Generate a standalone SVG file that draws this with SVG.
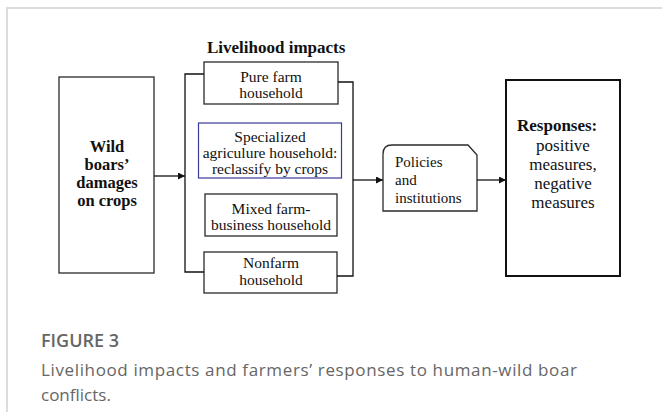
<svg xmlns="http://www.w3.org/2000/svg" width="662" height="412" viewBox="0 0 662 412">
<style>
.box{fill:#fff;stroke:#2a2a2a;stroke-width:1.3}
.blue{fill:#fff;stroke:#3a3a9a;stroke-width:1.2}
.resp{fill:#fff;stroke:#111;stroke-width:2}
.t{font-family:"Liberation Serif","Times New Roman",serif;fill:#111}
.c{text-anchor:middle}
.b{font-weight:bold}
.con{fill:none;stroke:#111;stroke-width:1.3}
.cap{font-family:"Open Sans","Noto Sans",sans-serif;fill:#666}
</style>
<defs>
<marker id="arr" viewBox="0 0 10 10" refX="10" refY="5" markerWidth="7" markerHeight="7" markerUnits="userSpaceOnUse" orient="auto">
<path d="M0,0 L10,5 L0,10 Z" fill="#111"/>
</marker>
</defs>
<rect width="662" height="412" fill="#fff"/>
<path d="M7,412 L7,8 L662,8" fill="none" stroke="#dcdcdc" stroke-width="2"/>

<text class="t b" x="207" y="53" font-size="17">Livelihood impacts</text>

<g id="wild">
<rect class="box" x="59" y="77" width="95" height="196"/>
<text class="t b c" font-size="16.5" x="107" y="152">Wild</text>
<text class="t b c" font-size="16.5" x="107" y="170">boars’</text>
<text class="t b c" font-size="16.5" x="107" y="188">damages</text>
<text class="t b c" font-size="16.5" x="107" y="206">on crops</text>
</g>

<g id="pure">
<rect class="box" x="204" y="62" width="134" height="42"/>
<text class="t c" font-size="15.5" x="271" y="82">Pure farm</text>
<text class="t c" font-size="15.5" x="271" y="98">household</text>
</g>

<g id="specialized">
<rect class="blue" x="198.5" y="123" width="143" height="55"/>
<text class="t c" font-size="15.5" x="270" y="142">Specialized</text>
<text class="t c" font-size="15.5" x="270" y="158">agriculure household:</text>
<text class="t c" font-size="15.5" x="270" y="174">reclassify by crops</text>
</g>

<g id="mixed">
<rect class="box" x="205" y="194" width="132" height="42"/>
<text class="t c" font-size="15.5" x="271" y="214">Mixed farm-</text>
<text class="t c" font-size="15.5" x="271" y="230">business household</text>
</g>

<g id="nonfarm">
<rect class="box" x="204" y="252" width="133" height="41"/>
<text class="t c" font-size="15.5" x="271" y="268">Nonfarm</text>
<text class="t c" font-size="15.5" x="271" y="285">household</text>
</g>

<g id="policies">
<path class="box" d="M383,211 L383,154 Q383,145 392,145 L468,145 L477,155 L477,211 Z"/>
<text class="t" font-size="15" x="395" y="167">Policies</text>
<text class="t" font-size="15" x="395" y="185">and</text>
<text class="t" font-size="15" x="395" y="203">institutions</text>
</g>

<g id="responses">
<rect class="resp" x="506" y="80" width="114" height="196"/>
<text class="t b" font-size="17" x="517" y="131">Responses:</text>
<text class="t c" font-size="17" x="563" y="151">positive</text>
<text class="t c" font-size="17" x="563" y="170">measures,</text>
<text class="t c" font-size="17" x="563" y="189">negative</text>
<text class="t c" font-size="17" x="563" y="208">measures</text>
</g>

<g id="connectors">
<path class="con" d="M154,176 L185,176" marker-end="url(#arr)"/>
<path class="con" d="M204,74 L185,74 L185,272 L204,272"/>
<path class="con" d="M338,82 L353,82 L353,276 L337,276"/>
<path class="con" d="M353,180 L383,180" marker-end="url(#arr)"/>
<path class="con" d="M477,180 L506,180" marker-end="url(#arr)"/>
</g>

<g id="caption">
<text class="cap" x="41" y="347" font-size="18" font-weight="600" fill="#5a5a5a">FIGURE 3</text>
<text class="cap" x="41" y="376" font-size="17" textLength="536" lengthAdjust="spacing">Livelihood impacts and farmers’ responses to human-wild boar</text>
<text class="cap" x="41" y="401" font-size="17">conflicts.</text>
</g>
</svg>
